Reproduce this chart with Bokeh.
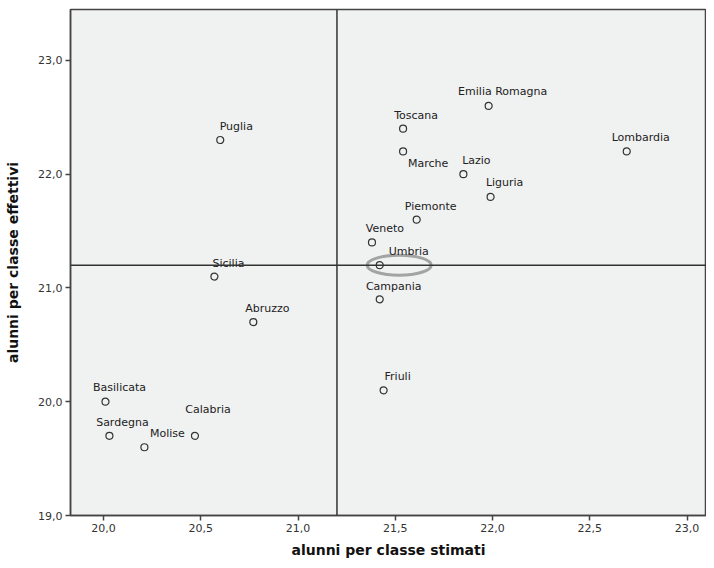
from bokeh.plotting import figure
from bokeh.models import ColumnDataSource, Range1d, Span, CustomJSTickFormatter, FixedTicker
from bokeh.core.properties import value
from bokeh.embed import file_html
from bokeh.resources import INLINE

regions = ["Puglia", "Sicilia", "Abruzzo", "Basilicata", "Sardegna", "Molise", "Calabria",
           "Friuli", "Campania", "Umbria", "Veneto", "Piemonte", "Marche", "Toscana",
           "Lazio", "Liguria", "Emilia Romagna", "Lombardia"]
stimati = [20.60, 20.57, 20.77, 20.01, 20.03, 20.21, 20.47,
           21.44, 21.42, 21.42, 21.38, 21.61, 21.54, 21.54,
           21.85, 21.99, 21.98, 22.69]
effettivi = [22.3, 21.1, 20.7, 20.0, 19.7, 19.6, 19.7,
             20.1, 20.9, 21.2, 21.4, 21.6, 22.2, 22.4,
             22.0, 21.8, 22.6, 22.2]
# label offsets in screen pixels (text centre relative to the point, up = positive)
label_dx = [16, 14, 14, 14, 13, 23, 13, 14, 14, 29, 13, 14, 25, 13, 13, 14, 14, 14]
label_dy = [14, 13, 14, 14, 13, 14, 26, 14, 13, 14, 14, 13, -12, 13, 14, 14, 14, 14]

mean_stimati = 21.2
mean_effettivi = 21.2
x_ticks = [20.0, 20.5, 21.0, 21.5, 22.0, 22.5, 23.0]
y_ticks = [19.0, 20.0, 21.0, 22.0, 23.0]

src = ColumnDataSource(dict(x=stimati, y=effettivi, name=regions,
                            dx=label_dx, dy=[-d for d in label_dy]))

p = figure(width=706, height=560, output_backend="svg", toolbar_location=None,
           x_range=Range1d(19.83, 23.10), y_range=Range1d(19.0, 23.447),
           min_border_left=70, min_border_right=0, min_border_top=9, min_border_bottom=44,
           background_fill_color="#f0f1f1", border_fill_color="white")
p.outline_line_color = "#444444"
p.outline_line_width = 1.5
p.grid.visible = False

fmt = CustomJSTickFormatter(code="return tick.toFixed(1).replace('.', ',');")
for ax, ticks in ((p.xaxis[0], x_ticks), (p.yaxis[0], y_ticks)):
    ax.ticker = FixedTicker(ticks=ticks)
    ax.formatter = fmt
    ax.axis_line_color = "#444444"
    ax.axis_line_width = 1.5
    ax.major_tick_line_color = "#444444"
    ax.major_tick_line_width = 1.5
    ax.major_tick_out = 5
    ax.major_tick_in = 0
    ax.minor_tick_line_color = None
    ax.major_label_text_font = "DejaVu Sans"
    ax.major_label_text_font_size = "11px"
    ax.major_label_text_color = "#333333"
    ax.major_label_standoff = 3
    ax.axis_label_text_font = "DejaVu Sans"
    ax.axis_label_text_font_size = "14px"
    ax.axis_label_text_font_style = "bold"
    ax.axis_label_text_color = "#111111"

p.xaxis.axis_label = "alunni per classe stimati"
p.yaxis.axis_label = "alunni per classe effettivi"
p.xaxis.axis_label_standoff = 7
p.yaxis.axis_label_standoff = 14

p.add_layout(Span(location=mean_stimati, dimension="height", line_color="#333333", line_width=1.5))
p.add_layout(Span(location=mean_effettivi, dimension="width", line_color="#333333", line_width=1.5))

# hand-drawn style highlight around Umbria
ui = regions.index("Umbria")
p.ellipse(x=[stimati[ui] + 0.10], y=[effettivi[ui]], width=64, height=20,
          width_units="screen", height_units="screen",
          fill_color=None, line_color="#9a9a9a", line_width=3, line_alpha=0.9)

p.scatter("x", "y", source=src, size=7, marker="circle",
          fill_color="#f0f1f1", line_color="#333333", line_width=1.2)

p.text("x", "y", text="name", source=src, x_offset="dx", y_offset="dy",
       text_align="center", text_baseline="middle",
       text_font=value("DejaVu Sans"), text_font_size="11px", text_color="#222222")

open("out.html", "w").write(file_html(p, INLINE))
